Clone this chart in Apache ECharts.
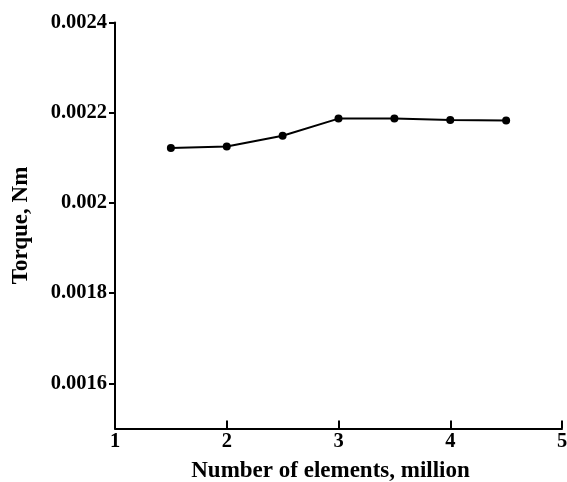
<!DOCTYPE html>
<html>
<head>
<meta charset="utf-8">
<script src="https://cdn.jsdelivr.net/npm/echarts@6/dist/echarts.min.js"></script>
<style>html,body{margin:0;padding:0;background:#fff;}#c{width:567px;height:482px;}</style>
</head>
<body>
<div id="c"></div>
<script>
var elements = [1.5, 2, 2.5, 3, 3.5, 4, 4.5];
var torque = [0.002122, 0.002125, 0.002149, 0.002187, 0.002187, 0.002184, 0.002183];
var xTicks = [1, 2, 3, 4, 5];
var yTicks = [0.0016, 0.0018, 0.002, 0.0022, 0.0024];

var font = 'Liberation Serif';
var chart = echarts.init(document.getElementById('c'), null, {renderer: 'canvas'});
chart.setOption({
  animation: false,
  backgroundColor: '#fff',
  grid: {left: 115, right: 5, top: 22.5, bottom: 53.5, containLabel: false, outerBoundsMode: 'none'},
  xAxis: {
    type: 'value', min: 1, max: 5, interval: 1,
    name: 'Number of elements, million', nameLocation: 'middle', nameGap: 31,
    nameTextStyle: {fontFamily: font, fontWeight: 'bold', fontSize: 23, color: '#000', padding: [0, 16, 0, 0]},
    axisLine: {lineStyle: {color: '#000', width: 2}},
    axisTick: {inside: true, length: 8, lineStyle: {color: '#000', width: 2}},
    axisLabel: {fontFamily: font, fontWeight: 'bold', fontSize: 20.5, color: '#000', margin: 3,
      formatter: function (v) { return xTicks.indexOf(v) >= 0 ? String(v) : ''; }},
    splitLine: {show: false}
  },
  yAxis: {
    type: 'value', min: 0.0015, max: 0.0024,
    name: 'Torque, Nm', nameLocation: 'middle', nameGap: 82, nameRotate: 90,
    nameTextStyle: {fontFamily: font, fontWeight: 'bold', fontSize: 23, color: '#000'},
    axisLine: {show: true, lineStyle: {color: '#000', width: 2}},
    axisTick: {show: true, inside: false, length: 6, lineStyle: {color: '#000', width: 2},
      customValues: yTicks},
    axisLabel: {fontFamily: font, fontWeight: 'bold', fontSize: 20.5, color: '#000', margin: 8,
      customValues: yTicks,
      formatter: function (v) { return String(parseFloat(v.toFixed(6))); }},
    splitLine: {show: false}
  },
  series: [{
    type: 'line',
    data: elements.map(function (x, i) { return [x, torque[i]]; }),
    symbol: 'circle', symbolSize: 8,
    itemStyle: {color: '#000'},
    lineStyle: {color: '#000', width: 2}
  }]
});
</script>
</body>
</html>
